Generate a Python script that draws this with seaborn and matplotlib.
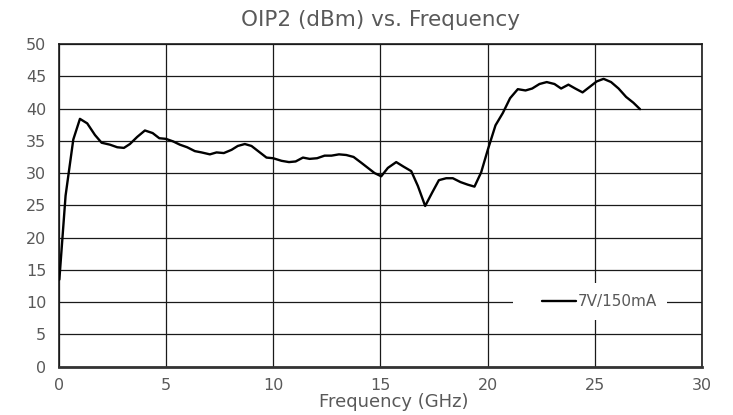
import matplotlib
matplotlib.use("Agg")
import matplotlib.pyplot as plt
from matplotlib.patches import Rectangle
import seaborn as sns
import pandas as pd

# OIP2 measurement, 7 V / 150 mA bias
freq_ghz = [0.03, 0.32, 0.68, 0.99, 1.33, 1.69, 2.00, 2.39, 2.73, 3.04,
            3.32, 3.66, 4.02, 4.38, 4.69, 5.00, 5.34, 5.65, 5.99, 6.35,
            6.66, 7.05, 7.36, 7.70, 8.06, 8.35, 8.68, 8.99, 9.34, 9.69,
            10.00, 10.39, 10.74, 11.05, 11.39, 11.70, 12.05, 12.40, 12.72, 13.07,
            13.41, 13.75, 14.11, 14.42, 14.73, 15.04, 15.35, 15.74, 16.08, 16.44,
            16.75, 17.09, 17.42, 17.73, 18.07, 18.38, 18.74, 19.08, 19.39, 19.70,
            20.01, 20.37, 20.71, 21.05, 21.41, 21.77, 22.08, 22.42, 22.76, 23.12,
            23.43, 23.77, 24.09, 24.43, 24.78, 25.09, 25.41, 25.76, 26.11, 26.46,
            26.80, 27.11]
oip2_dbm = [13.5, 26.5, 35.2, 38.4, 37.7, 35.9, 34.7, 34.4, 34.0, 33.9,
            34.5, 35.6, 36.6, 36.2, 35.4, 35.3, 34.9, 34.4, 34.0, 33.4,
            33.2, 32.9, 33.2, 33.1, 33.6, 34.2, 34.5, 34.2, 33.3, 32.4,
            32.3, 31.9, 31.7, 31.8, 32.4, 32.2, 32.3, 32.7, 32.7, 32.9,
            32.8, 32.5, 31.6, 30.8, 30.0, 29.5, 30.8, 31.7, 31.0, 30.3,
            28.0, 24.9, 27.0, 28.9, 29.2, 29.2, 28.6, 28.2, 27.9, 30.1,
            33.6, 37.4, 39.3, 41.6, 43.0, 42.8, 43.1, 43.8, 44.1, 43.8,
            43.1, 43.7, 43.1, 42.5, 43.4, 44.2, 44.6, 44.1, 43.1, 41.8,
            40.9, 39.9]
series_name = "7V/150mA"
x_ticks = [0, 5, 10, 15, 20, 25, 30]
y_ticks = [0, 5, 10, 15, 20, 25, 30, 35, 40, 45, 50]

df = pd.DataFrame({"Frequency": freq_ghz, "OIP2": oip2_dbm, "Bias": series_name})

sns.set_style("white")
plt.rcParams["font.family"] = ["DejaVu Sans"]
text_color = "#595959"

fig = plt.figure(figsize=(7.33, 4.15), dpi=100)
ax = fig.add_axes([0.0801, 0.1164, 0.8776, 0.7776])

sns.lineplot(data=df, x="Frequency", y="OIP2", hue="Bias",
             palette=["black"], linewidth=1.7, ax=ax, sort=False, zorder=3)

ax.set_xlim(0, 30)
ax.set_ylim(0, 50)
ax.set_xticks(x_ticks)
ax.set_yticks(y_ticks)
ax.grid(True, color="#1a1a1a", linewidth=0.9)
ax.set_axisbelow(True)
for side in ["left", "right", "top"]:
    ax.spines[side].set_color("#1a1a1a")
    ax.spines[side].set_linewidth(1.2)
ax.spines["bottom"].set_color("#333333")
ax.spines["bottom"].set_linewidth(2.0)
ax.tick_params(axis="both", length=0, labelsize=11.5, labelcolor=text_color)
ax.tick_params(axis="y", pad=9)
ax.tick_params(axis="x", pad=8)

ax.set_title("OIP2 (dBm) vs. Frequency", fontsize=15.5, color=text_color, pad=13)
ax.set_xlabel("Frequency (GHz)", fontsize=13, color=text_color, va="center")
ax.xaxis.set_label_coords(0.5204, -0.1085)
ax.set_ylabel("")

# white panel behind the legend entry, interrupting the grid
ax.add_patch(Rectangle((0.706, 0.1447), 0.2394, 0.1147, transform=ax.transAxes,
                       facecolor="white", edgecolor="none", zorder=2))
leg = ax.legend(loc="center", bbox_to_anchor=(0.8407, 0.202), frameon=False,
                fontsize=11, handlelength=2.2, handletextpad=0.15)
for t in leg.get_texts():
    t.set_color(text_color)

fig.savefig("out.png", dpi=100)
